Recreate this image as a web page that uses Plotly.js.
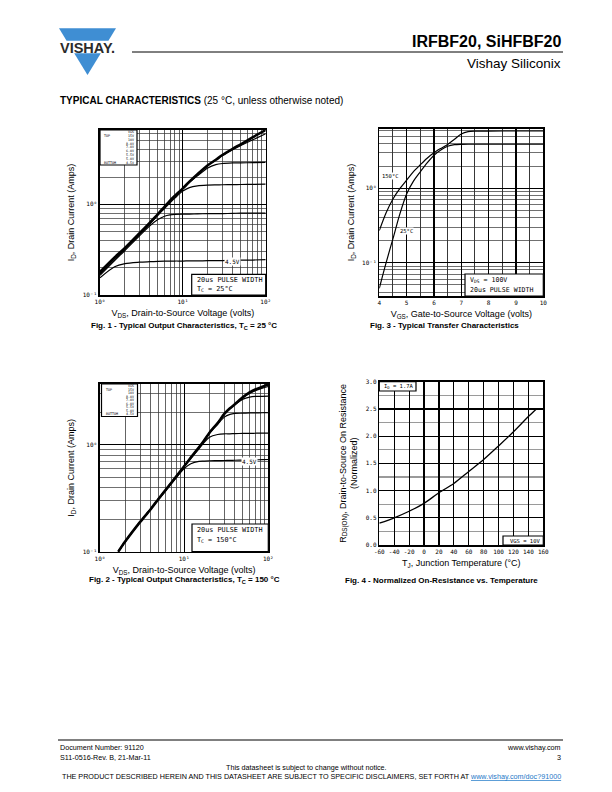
<!DOCTYPE html>
<html>
<head>
<meta charset="utf-8">
<script src="https://cdn.plot.ly/plotly-3.0.1.min.js"></script>
<style>
  html, body { margin: 0; padding: 0; background: #fff; }
  #myPlot { width: 612px; height: 792px; }
</style>
</head>
<body>
<div id="myPlot"></div>
<script>
/**
 * Data
 */

// Fig. 1 - output characteristics, Tc = 25 C
const vds1 = [1, 1.5, 2, 3, 4, 5, 6, 7, 8, 10, 12, 15, 20, 25, 30, 40, 50, 70, 100];
const id1_15v = [0.18, 0.26, 0.33, 0.48, 0.63, 0.78, 0.94, 1.1, 1.24, 1.5, 1.78, 2.15, 2.7, 3.1, 3.5, 4.1, 4.6, 5.5, 6.6];
const id1_10v = [0.175, 0.255, 0.325, 0.475, 0.625, 0.775, 0.93, 1.09, 1.23, 1.49, 1.77, 2.13, 2.68, 3.08, 3.45, 4.02, 4.45, 5.15, 6.0];
const id1_7v = [0.175, 0.255, 0.325, 0.475, 0.62, 0.77, 0.93, 1.08, 1.22, 1.48, 1.74, 2.06, 2.52, 2.74, 2.82, 2.86, 2.87, 2.88, 2.9];
const id1_6v = [0.17, 0.25, 0.32, 0.47, 0.61, 0.76, 0.9, 1.04, 1.17, 1.4, 1.53, 1.6, 1.63, 1.64, 1.645, 1.65, 1.655, 1.66, 1.67];
const id1_5v = [0.165, 0.24, 0.31, 0.45, 0.58, 0.68, 0.74, 0.765, 0.775, 0.78, 0.78, 0.785, 0.79, 0.79, 0.79, 0.795, 0.8, 0.8, 0.8];
const id1_45v = [0.155, 0.205, 0.222, 0.23, 0.233, 0.235, 0.236, 0.236, 0.237, 0.237, 0.238, 0.238, 0.239, 0.24, 0.24, 0.241, 0.242, 0.243, 0.245];

// Fig. 2 - output characteristics, Tc = 150 C
const vds2 = [1.65, 2, 3, 4, 5, 7, 10, 12, 15, 17, 20, 25, 30, 35, 40, 50, 60, 70, 85, 100];
const id2_15v = [0.1, 0.125, 0.19, 0.25, 0.315, 0.44, 0.63, 0.76, 0.95, 1.08, 1.3, 1.6, 1.95, 2.2, 2.4, 2.8, 3.1, 3.3, 3.5, 3.7];
const id2_10v = [0.1, 0.125, 0.19, 0.25, 0.315, 0.44, 0.63, 0.76, 0.95, 1.08, 1.3, 1.6, 1.95, 2.2, 2.4, 2.78, 3.05, 3.22, 3.4, 3.52];
const id2_7v = [0.1, 0.125, 0.19, 0.25, 0.315, 0.44, 0.63, 0.76, 0.95, 1.08, 1.3, 1.6, 1.94, 2.18, 2.38, 2.68, 2.8, 2.84, 2.85, 2.86];
const id2_6v = [0.1, 0.125, 0.19, 0.25, 0.315, 0.44, 0.63, 0.76, 0.95, 1.08, 1.29, 1.56, 1.82, 1.93, 1.97, 1.98, 1.99, 1.99, 2.0, 2.0];
const id2_5v = [0.1, 0.125, 0.19, 0.25, 0.315, 0.44, 0.63, 0.75, 0.92, 1.04, 1.18, 1.25, 1.27, 1.27, 1.275, 1.28, 1.28, 1.285, 1.29, 1.29];
const id2_45v = [0.1, 0.125, 0.19, 0.25, 0.31, 0.43, 0.6, 0.665, 0.7, 0.705, 0.71, 0.712, 0.714, 0.716, 0.718, 0.72, 0.722, 0.725, 0.727, 0.73];

// Fig. 3 - transfer characteristics
const vgs3 = [4, 4.25, 4.5, 4.75, 5, 5.25, 5.5, 5.75, 6, 6.25, 6.5, 6.75, 7, 7.25, 7.5, 8, 9, 10];
const id3_150c = [0.27, 0.47, 0.72, 0.99, 1.29, 1.68, 2.08, 2.55, 3.02, 3.45, 3.9, 4.6, 5.4, 5.8, 5.9, 5.92, 5.93, 5.93];
const id3_25c = [0.045, 0.1, 0.21, 0.45, 0.84, 1.25, 1.67, 2.2, 2.8, 3.3, 3.7, 3.88, 3.92, 3.93, 3.93, 3.93, 3.93, 3.93];

// Fig. 4 - normalized on-resistance vs temperature
const tj4 = [-60, -40, -20, 0, 20, 40, 60, 80, 100, 120, 140, 150];
const rds4 = [0.40, 0.50, 0.62, 0.765, 0.96, 1.13, 1.35, 1.57, 1.82, 2.08, 2.36, 2.49];

// tick labels
const logDecades = [0.1, 1, 10, 100];
const logDecadeText = ['10\u207B\u00B9', '10\u2070', '10\u00B9', '10\u00B2'];
const logMinor = [0.02, 0.03, 0.04, 0.05, 0.06, 0.07, 0.08, 0.09, 0.2, 0.3, 0.4, 0.5, 0.6, 0.7, 0.8, 0.9,
  2, 3, 4, 5, 6, 7, 8, 9, 20, 30, 40, 50, 60, 70, 80, 90];
const tjTicks = [-60, -40, -20, 0, 20, 40, 60, 80, 100, 120, 140, 160];
const vgsLegend = ['VGS', '15V', '10V', '8.0V', '7.0V', '6.0V', '5.5V', '5.0V', '4.5V'];

/**
 * Page helpers (pixels -> paper)
 */
const W = 612, H = 792;
const px = v => v / W;
const py = v => 1 - v / H;
const MONO = 'DejaVu Sans Mono, monospace';
const SANS = 'Liberation Sans, Arial, sans-serif';

const frame = {
  showline: true, mirror: true, linecolor: '#000', linewidth: 1.6,
  ticks: '', zeroline: false, showgrid: true, gridcolor: '#000', gridwidth: 1.2,
  tickfont: { family: MONO, size: 6, color: '#000' }, fixedrange: true
};

const logX = (l, r) => Object.assign({}, frame, {
  type: 'log', domain: [px(l), px(r)], range: [0, 2],
  tickmode: 'array', tickvals: logDecades, ticktext: logDecadeText,
  minor: { tickmode: 'array', tickvals: logMinor, showgrid: true, gridcolor: '#222', gridwidth: 0.7 },
  title: { text: 'V<sub>DS</sub>, Drain-to-Source Voltage (volts)', font: { family: SANS, size: 9 }, standoff: 6 }
});

const logY = (top, bot, range) => Object.assign({}, frame, {
  type: 'log', domain: [py(bot), py(top)], range: range,
  tickmode: 'array', tickvals: logDecades, ticktext: logDecadeText,
  minor: { tickmode: 'array', tickvals: logMinor, showgrid: true, gridcolor: '#333', gridwidth: 0.7 },
  title: { text: 'I<sub>D</sub>, Drain Current (Amps)', font: { family: SANS, size: 9 }, standoff: 6 }
});

const line = (x, y, xa, ya, w) => ({
  type: 'scatter', mode: 'lines', x: x, y: y, xaxis: xa, yaxis: ya,
  line: { color: '#000', width: w || 1.2, shape: 'spline', smoothing: 0.8 },
  hoverinfo: 'skip'
});

const data = [
  line(vds1, id1_45v, 'x', 'y'),
  line(vds1, id1_5v, 'x', 'y'),
  line(vds1, id1_6v, 'x', 'y'),
  line(vds1, id1_7v, 'x', 'y'),
  line(vds1, id1_10v, 'x', 'y', 1.2),
  line(vds1, id1_15v, 'x', 'y', 2.6),

  line(vgs3, id3_150c, 'x2', 'y2', 1.2),
  line(vgs3, id3_25c, 'x2', 'y2', 1.2),

  line(vds2, id2_45v, 'x3', 'y3'),
  line(vds2, id2_5v, 'x3', 'y3'),
  line(vds2, id2_6v, 'x3', 'y3'),
  line(vds2, id2_7v, 'x3', 'y3'),
  line(vds2, id2_10v, 'x3', 'y3', 1.2),
  line(vds2, id2_15v, 'x3', 'y3', 2.6),

  line(tj4, rds4, 'x4', 'y4', 1.3)
];

/**
 * Text and boxes
 */
const ann = (x, y, text, o) => Object.assign({
  xref: 'paper', yref: 'paper', x: px(x), y: py(y), text: text, showarrow: false,
  xanchor: 'left', yanchor: 'middle', font: { family: SANS, size: 7, color: '#000' }
}, o || {});

const rect = (x0, y0, x1, y1, fill) => ({
  type: 'rect', xref: 'paper', yref: 'paper', layer: 'above',
  x0: px(x0), x1: px(x1), y0: py(y1), y1: py(y0),
  fillcolor: fill || 'white', line: { color: '#000', width: 1.2 }
});

const hline = (x0, x1, y, w) => ({
  type: 'line', xref: 'paper', yref: 'paper', x0: px(x0), x1: px(x1), y0: py(y), y1: py(y),
  line: { color: '#000', width: w }
});

const path = pts => 'M ' + pts.map(p => px(p[0]) + ',' + py(p[1])).join(' L ') + ' Z';

const mono = s => ({ family: MONO, size: s, color: '#000' });
const sans = s => ({ family: SANS, size: s, color: '#000' });

// tiny VGS step list in the corner of figs 1 and 2
const legendBox = (l, t, r, b) => {
  const step = (b - t - 1) / vgsLegend.length;
  const out = vgsLegend.map((s, i) =>
    ann(r - 1.5, t + 0.5 + step * (i + 0.5), s, { xanchor: 'right', font: mono(3.3) }));
  out.push(ann(l + 2, t + 0.5 + step * 1.5, 'TOP', { font: mono(3.3) }));
  out.push(ann(l + 2, t + 0.5 + step * (vgsLegend.length - 0.5), 'BOTTOM', { font: mono(3.3) }));
  return out;
};

const annotations = [
  // header
  ann(563, 41, '<b>IRFBF20, SiHFBF20</b>', { xanchor: 'right', font: sans(16) }),
  ann(563, 63, 'Vishay Siliconix', { xanchor: 'right', font: sans(13.5) }),
  ann(87.5, 47.5, '<b>VISHAY.</b>', { xanchor: 'center', font: { family: SANS, size: 14.5, color: '#2b2b2b' } }),
  ann(58, 101, '<b>TYPICAL CHARACTERISTICS</b> (25 °C, unless otherwise noted)', { font: sans(10) }),

  // fig 1
  ...legendBox(100, 130, 137, 165),
  ann(195, 280, '20us PULSE WIDTH', { font: mono(6.8) }),
  ann(195, 289.5, 'T<sub>C</sub> = 25°C', { font: mono(6.8) }),
  ann(232.5, 261, '4.5V', { xanchor: 'center', bgcolor: 'white', borderpad: 0, font: mono(6) }),
  ann(184, 326, '<b>Fig. 1 - Typical Output Characteristics, T<sub>C</sub> = 25 °C</b>', { xanchor: 'center', font: sans(8) }),

  // fig 3
  ann(390, 176, '150°C', { xanchor: 'center', bgcolor: 'white', borderpad: 0, font: mono(5.5) }),
  ann(406, 231, '25°C', { xanchor: 'center', bgcolor: 'white', borderpad: 0, font: mono(5.5) }),
  ann(468, 280, 'V<sub>DS</sub> = 100V', { font: mono(6.6) }),
  ann(468, 290, '20us PULSE WIDTH', { font: mono(6.6) }),
  ann(444, 326, '<b>Fig. 3 - Typical Transfer Characteristics</b>', { xanchor: 'center', font: sans(8) }),

  // fig 2
  ...legendBox(101.5, 384, 137.5, 416.5),
  ann(195, 530, '20us PULSE WIDTH', { font: mono(6.8) }),
  ann(195, 540, 'T<sub>C</sub> = 150°C', { font: mono(6.8) }),
  ann(249.5, 461, '4.5V', { xanchor: 'center', bgcolor: 'white', borderpad: 0, font: mono(6) }),
  ann(184, 580, '<b>Fig. 2 - Typical Output Characteristics, T<sub>C</sub> = 150 °C</b>', { xanchor: 'center', font: sans(8) }),

  // fig 4
  ann(382, 386.5, 'I<sub>D</sub> = 1.7A', { font: mono(5.5) }),
  ann(541.5, 540.5, 'VGS = 10V', { xanchor: 'right', font: mono(5.5) }),
  ann(441, 580, '<b>Fig. 4 - Normalized On-Resistance vs. Temperature</b>', { xanchor: 'center', font: sans(8) }),

  // footer
  ann(58, 747, 'Document Number: 91120', { font: sans(7.2) }),
  ann(58, 757, 'S11-0516-Rev. B, 21-Mar-11', { font: sans(7.2) }),
  ann(563, 747, 'www.vishay.com', { xanchor: 'right', font: sans(7.2) }),
  ann(563, 757, '3', { xanchor: 'right', font: sans(7.2) }),
  ann(306, 767, 'This datasheet is subject to change without notice.', { xanchor: 'center', font: sans(7.2) }),
  ann(563, 776, 'THE PRODUCT DESCRIBED HEREIN AND THIS DATASHEET ARE SUBJECT TO SPECIFIC DISCLAIMERS, SET FORTH AT ' +
    '<span style="color:#1e78c8;text-decoration:underline">www.vishay.com/doc?91000</span>',
    { xanchor: 'right', font: sans(7.2) })
];

const shapes = [
  // logo
  { type: 'path', xref: 'paper', yref: 'paper', path: path([[59, 28.3], [116, 28.3], [108.4, 40.8], [66.6, 40.8]]), fillcolor: '#3f8ed3', line: { width: 0 } },
  { type: 'path', xref: 'paper', yref: 'paper', path: path([[74.2, 53.3], [100.8, 53.3], [87.5, 75]]), fillcolor: '#3f8ed3', line: { width: 0 } },
  hline(132, 563, 52, 1),
  hline(58, 563, 740, 1),

  // legend boxes / text boxes
  rect(100, 130, 137, 165),
  rect(191.7, 274.3, 265.7, 295),
  rect(465, 274, 543.3, 296),
  rect(101.5, 384, 137.5, 416.5),
  rect(192, 524, 268.3, 551.7),
  rect(379.3, 381.7, 416, 391),
  rect(503, 536, 543.3, 545)
];

/**
 * Layout
 */
const layout = {
  width: W,
  height: H,
  margin: { l: 0, r: 0, t: 0, b: 0 },
  paper_bgcolor: 'white',
  plot_bgcolor: 'white',
  showlegend: false,
  font: { family: SANS, color: '#000' },

  // fig 1
  xaxis: Object.assign(logX(100, 265.7), { anchor: 'y' }),
  yaxis: Object.assign(logY(130, 295, [-1, 0.82]), { anchor: 'x' }),

  // fig 3
  xaxis2: Object.assign({}, frame, {
    anchor: 'y2', domain: [px(379.3), px(543.3)], range: [4, 10], dtick: 1,
    minor: { dtick: 0.5, showgrid: true, gridcolor: '#222', gridwidth: 0.9 },
    title: { text: 'V<sub>GS</sub>, Gate-to-Source Voltage (volts)', font: { family: SANS, size: 9 }, standoff: 6 }
  }),
  yaxis2: Object.assign(logY(129, 296, [-1.45, 0.8]), { anchor: 'x2' }),

  // fig 2
  xaxis3: Object.assign(logX(100, 268.3), { anchor: 'y3' }),
  yaxis3: Object.assign(logY(384, 551.7, [-1, 0.57]), { anchor: 'x3' }),

  // fig 4
  xaxis4: Object.assign({}, frame, {
    anchor: 'y4', domain: [px(379.3), px(543.3)], range: [-60, 160],
    tickmode: 'array', tickvals: tjTicks, ticktext: tjTicks.map(String),
    title: { text: 'T<sub>J</sub>, Junction Temperature (°C)', font: { family: SANS, size: 9 }, standoff: 6 }
  }),
  yaxis4: Object.assign({}, frame, {
    anchor: 'x4', domain: [py(545), py(381.7)], range: [0, 3], dtick: 0.5, tickformat: '.1f',
    minor: { dtick: 0.25, showgrid: true, gridcolor: '#9a9a9a', gridwidth: 1.2 },
    title: { text: 'R<sub>DS(ON)</sub>, Drain-to-Source On Resistance<br>(Normalized)', font: { family: SANS, size: 9 }, standoff: 6 }
  }),

  annotations: annotations,
  shapes: shapes
};

const myPlot = document.getElementById('myPlot');
Plotly.newPlot(myPlot, data, layout, { staticPlot: true, displayModeBar: false });
</script>
</body>
</html>
